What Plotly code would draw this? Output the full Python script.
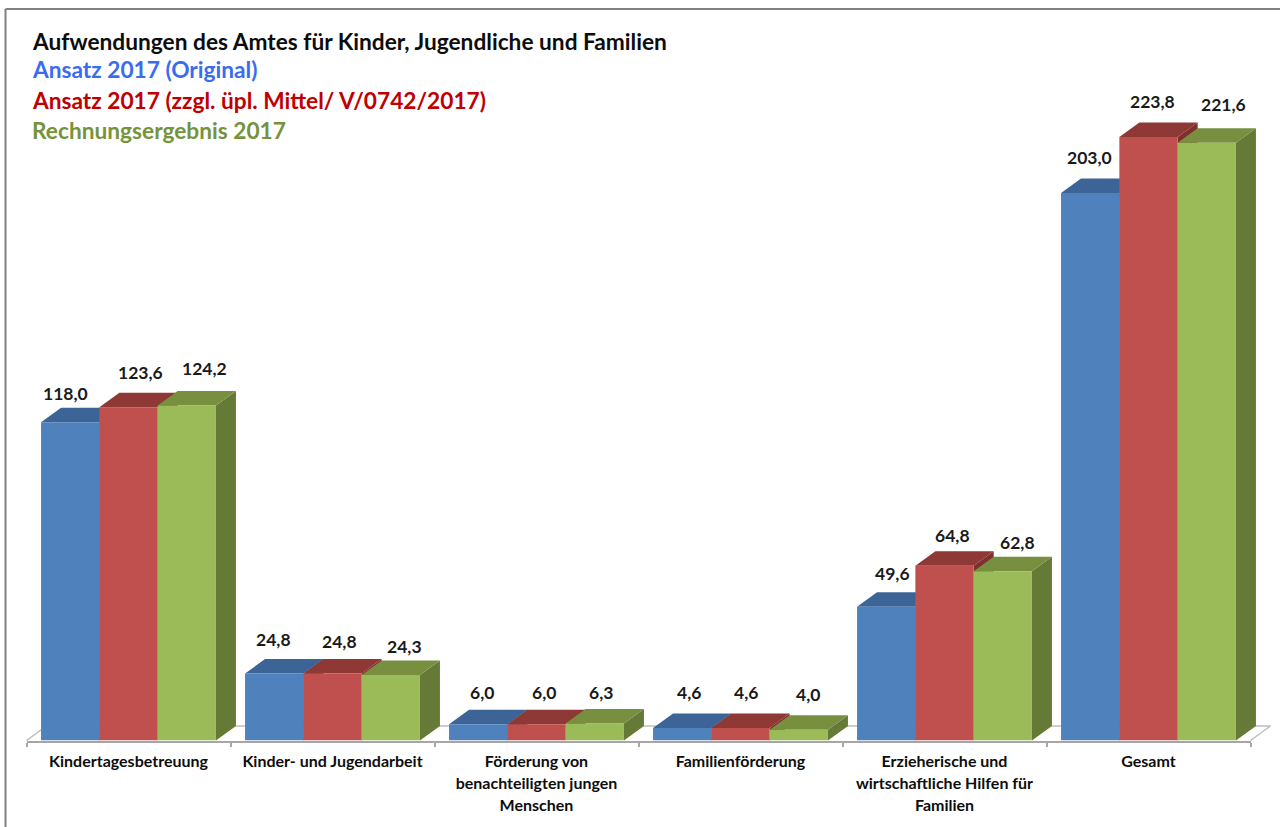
import plotly.graph_objects as go

kategorien = [
    "Kindertagesbetreuung",
    "Kinder- und Jugendarbeit",
    "Förderung von<br>benachteiligten jungen<br>Menschen",
    "Familienförderung",
    "Erzieherische und<br>wirtschaftliche Hilfen für<br>Familien",
    "Gesamt",
]
ansatz_original = [118.0, 24.8, 6.0, 4.6, 49.6, 203.0]
ansatz_zzgl = [123.6, 24.8, 6.0, 4.6, 64.8, 223.8]
rechnungsergebnis = [124.2, 24.3, 6.3, 4.0, 62.8, 221.6]

titel = "Aufwendungen des Amtes für Kinder, Jugendliche und Familien"
serien_namen = [
    "Ansatz 2017 (Original)",
    "Ansatz 2017 (zzgl. üpl. Mittel/ V/0742/2017)",
    "Rechnungsergebnis 2017",
]

FONT = "Lato"
W, H = 1280, 827
BASIS_PX = 740.5
PX_PRO_EINHEIT = 2.697
KAT_PX = 204
ACHSE_L, ACHSE_R = 26.5, 1250.5
BALKEN = 58.3 / KAT_PX
TIEFE_X = 20 / KAT_PX
TIEFE_Y = 14.5 / PX_PRO_EINHEIT

farbe_front = ["#4f81bd", "#c0504d", "#9bbb59"]
farbe_oben = ["#3c6496", "#8f3937", "#788f3f"]
farbe_seite = ["#335680", "#7f2f2d", "#667a37"]
farbe_text = ["#3a6cf0", "#c00000", "#76933c"]

# versatz der wertelabels (px), pro serie und kategorie
label_dx = [
    [-5, -1, 4, 7, 6, -1],
    [12, 7, 7, 5, 8, 4],
    [18, 14, 6, 9, 15, 17],
]
label_dy = [
    [29, 34, 32, 36, 33, 36],
    [35, 32, 32, 36, 30, 35],
    [37, 28, 31, 35, 29, 38],
]

serien = [ansatz_original, ansatz_zzgl, rechnungsergebnis]

fig = go.Figure()

# boden
x_links = -0.5 - ACHSE_L / KAT_PX
x_rechts = x_links + W / KAT_PX
y_unten = -(H - BASIS_PX) / PX_PRO_EINHEIT
y_oben = BASIS_PX / PX_PRO_EINHEIT
fig.add_trace(
    go.Scatter(
        x=[-0.5, -0.5 + TIEFE_X, 5.5 + TIEFE_X, 5.5],
        y=[0, TIEFE_Y, TIEFE_Y, 0],
        mode="lines",
        line=dict(color="#bdbdbd", width=1.5),
        hoverinfo="skip",
        xaxis="x",
        yaxis="y",
    )
)

# seiten und deckflächen
for s, werte in enumerate(serien):
    seite_x, seite_y, oben_x, oben_y = [], [], [], []
    for i, v in enumerate(werte):
        links = i + (s - 1.5) * BALKEN
        rechts = links + BALKEN
        seite_x += [rechts, rechts + TIEFE_X, rechts + TIEFE_X, rechts, rechts, None]
        seite_y += [0, TIEFE_Y, v + TIEFE_Y, v, 0, None]
        oben_x += [links, links + TIEFE_X, rechts + TIEFE_X, rechts, links, None]
        oben_y += [v, v + TIEFE_Y, v + TIEFE_Y, v, v, None]
    for fx, fy, farbe in [
        (seite_x, seite_y, farbe_seite[s]),
        (oben_x, oben_y, farbe_oben[s]),
    ]:
        fig.add_trace(
            go.Scatter(
                x=fx,
                y=fy,
                mode="lines",
                fill="toself",
                fillcolor=farbe,
                line=dict(width=0, color=farbe),
                hoverinfo="skip",
                xaxis="x",
                yaxis="y",
            )
        )

# vorderseiten
for s, werte in enumerate(serien):
    fig.add_trace(
        go.Bar(
            x=kategorien,
            y=werte,
            name=serien_namen[s],
            marker=dict(color=farbe_front[s], line=dict(width=0)),
            xaxis="x2",
            yaxis="y2",
        )
    )

# wertelabels
for s, werte in enumerate(serien):
    for i, v in enumerate(werte):
        fig.add_annotation(
            x=i + (s - 1) * BALKEN,
            y=v,
            xref="x",
            yref="y",
            text=f"{v:.1f}".replace(".", ","),
            showarrow=False,
            xshift=label_dx[s][i],
            yshift=label_dy[s][i],
            font=dict(family=FONT, size=17.5, color="#1a1a1a", weight="bold"),
        )

# titel und legende als text
for text, farbe, y_px in zip(
    [titel] + serien_namen, ["#0d0d0d"] + farbe_text, [42, 70, 101, 131]
):
    fig.add_annotation(
        x=30 / W,
        y=1 - y_px / H,
        xref="paper",
        yref="paper",
        xanchor="left",
        yanchor="middle",
        text=text,
        showarrow=False,
        font=dict(family=FONT, size=22.7, color=farbe, weight="bold"),
    )

# rahmen
fig.add_shape(type="line", xref="paper", yref="paper", x0=5.5 / W, x1=1, y0=1 - 9 / H, y1=1 - 9 / H,
              line=dict(color="#808080", width=2))
fig.add_shape(type="line", xref="paper", yref="paper", x0=5.5 / W, x1=5.5 / W, y0=0, y1=1 - 9 / H,
              line=dict(color="#808080", width=2))

tick_labels = [
    "<br>".join(f'<span style="font-size:16px">{z}</span>' for z in k.split("<br>"))
    for k in kategorien
]

fig.update_layout(
    width=W,
    height=H,
    margin=dict(l=0, r=0, t=0, b=0),
    paper_bgcolor="white",
    plot_bgcolor="rgba(0,0,0,0)",
    showlegend=False,
    barmode="group",
    bargap=(KAT_PX - 3 * 58.3) / KAT_PX,
    bargroupgap=0,
    xaxis=dict(domain=[0, 1], range=[x_links, x_rechts], visible=False, anchor="y"),
    yaxis=dict(domain=[0, 1], range=[y_unten, y_oben], visible=False, anchor="x"),
    xaxis2=dict(
        domain=[ACHSE_L / W, ACHSE_R / W],
        anchor="y2",
        type="category",
        categoryorder="array",
        categoryarray=kategorien,
        tickmode="array",
        tickvals=kategorien,
        ticktext=tick_labels,
        tickson="boundaries",
        ticks="outside",
        ticklen=4,
        tickcolor="#a6a6a6",
        tickwidth=1.5,
        tickangle=0,
        ticklabelstandoff=4,
        showline=True,
        linecolor="#a6a6a6",
        linewidth=2,
        showgrid=False,
        tickfont=dict(family=FONT, size=17, color="#0d0d0d", weight="bold"),
    ),
    yaxis2=dict(
        domain=[1 - BASIS_PX / H, 1],
        anchor="x2",
        range=[0, y_oben],
        visible=False,
    ),
)

fig.write_html(
    "out.html",
    config={"displayModeBar": False},
    post_script="document.body.style.margin='0';",
)
